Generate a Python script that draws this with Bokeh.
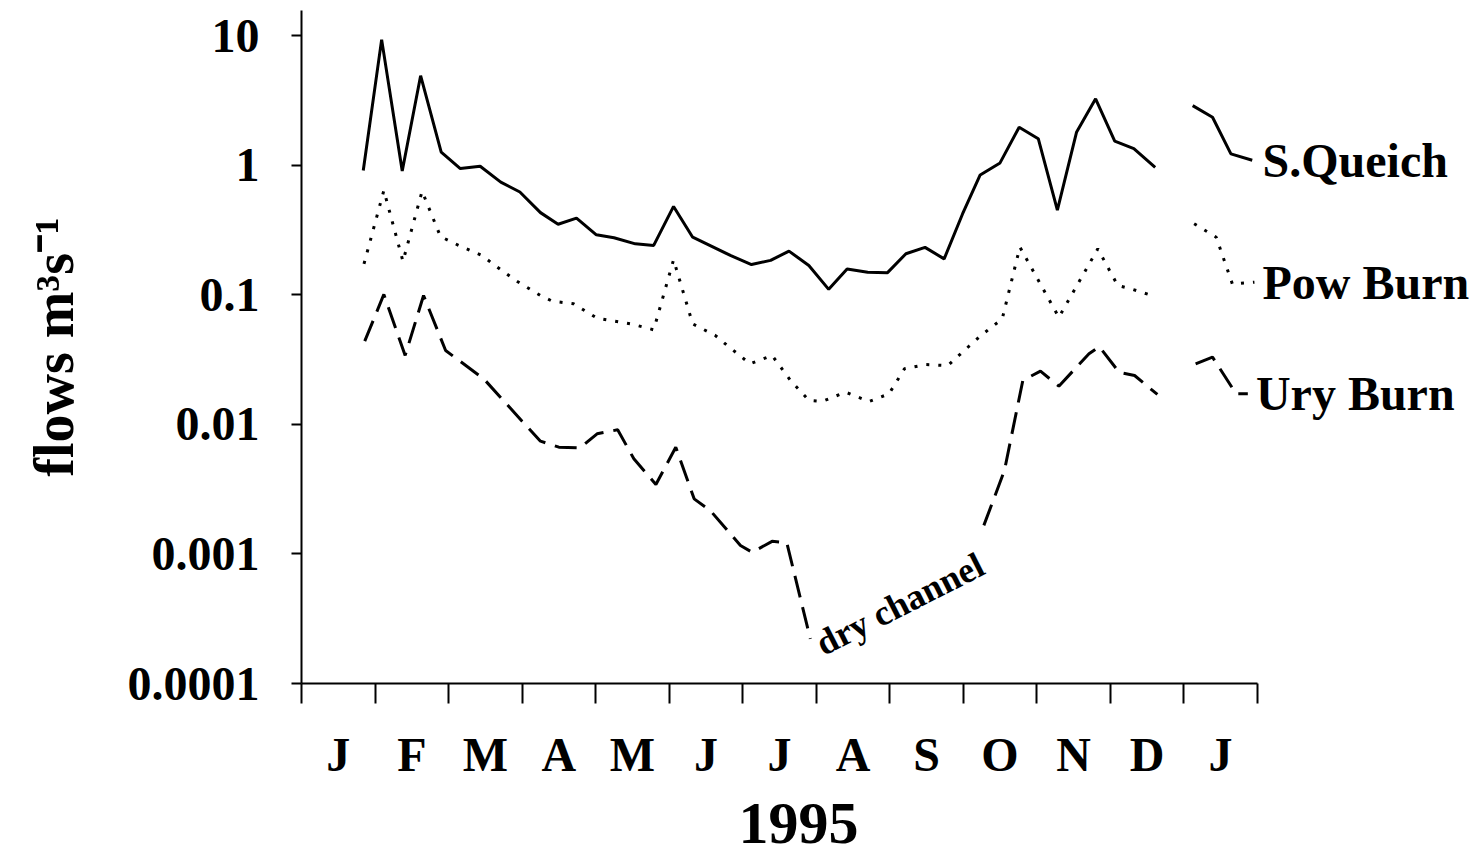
import math
from bokeh.plotting import figure
from bokeh.models import Range1d, FixedTicker, Label, Title
from bokeh.embed import file_html
from bokeh.resources import INLINE

NAN = float("nan")

# x positions in months from 1 Jan 1995 (0 = start of Jan, 13 = end of Jan 1996)
month_letters = ["J", "F", "M", "A", "M", "J", "J", "A", "S", "O", "N", "D", "J"]
y_ticks = [0.0001, 0.001, 0.01, 0.1, 1.0, 10.0]
y_tick_labels = ["0.0001", "0.001", "0.01", "0.1", "1", "10"]

queich_x = [0.84, 1.09, 1.37, 1.62, 1.90, 2.16, 2.43, 2.71, 2.97, 3.25, 3.49, 3.74, 4.01,
            4.25, 4.54, 4.79, 5.06, 5.32, 5.84, 6.12, 6.38, 6.63, 6.90, 7.17, 7.42, 7.70,
            7.97, 8.22, 8.48, 8.74, 8.99, 9.23, 9.50, 9.76, 10.02, 10.28, 10.54, 10.80,
            11.06, 11.32, 11.61]
queich_y = [0.91, 9.3, 0.90, 4.9, 1.26, 0.94, 0.98, 0.74, 0.62, 0.43, 0.35, 0.39, 0.29,
            0.275, 0.247, 0.24, 0.48, 0.278, 0.20, 0.171, 0.184, 0.217, 0.168, 0.110, 0.158,
            0.149, 0.148, 0.207, 0.232, 0.189, 0.42, 0.84, 1.04, 1.96, 1.60, 0.45, 1.79,
            3.25, 1.53, 1.34, 0.96]

pow_x = [0.85, 1.12, 1.38, 1.64, 1.89, 2.14, 2.46, 2.62, 2.93, 3.25, 3.41, 3.70, 4.02,
         4.48, 4.79, 5.06, 5.32, 5.63, 5.79, 6.10, 6.40, 6.65, 6.90, 7.08, 7.40, 7.72,
         7.99, 8.20, 8.49, 8.79, 8.94, 9.24, 9.53, 9.77, 10.30, 10.83, 11.10, 11.28, 11.60]
pow_y = [0.173, 0.637, 0.181, 0.629, 0.281, 0.240, 0.200, 0.170, 0.127, 0.0986, 0.0891,
         0.0851, 0.0659, 0.0596, 0.0536, 0.186, 0.0596, 0.0484, 0.0406, 0.0293, 0.034,
         0.0218, 0.0153, 0.0150, 0.0177, 0.0150, 0.0172, 0.0268, 0.0289, 0.0284, 0.034,
         0.0484, 0.0652, 0.233, 0.067, 0.226, 0.118, 0.111, 0.0973]

ury_x = [0.86, 1.12, 1.41, 1.66, 1.96, 2.48, 3.00, 3.25, 3.50, 3.79, 4.02, 4.30, 4.52,
         4.82, 5.09, 5.34, 5.56, 5.97, 6.13, 6.40, 6.60, 6.92, 8.0, 9.28, 9.56, 9.81,
         10.05, 10.30, 10.71, 10.85, 11.12, 11.33, 11.64]
ury_y = [0.0438, 0.1005, 0.034, 0.0986, 0.0371, 0.0224, 0.01057, 0.00741, 0.00666,
         0.00659, 0.00845, 0.00907, 0.00542, 0.00343, 0.00666, 0.00266, 0.00216, 0.00116,
         0.00103, 0.00125, 0.00122, 0.000221, NAN, 0.00166, 0.0044, 0.0218, 0.0257,
         0.0197, 0.035, 0.0398, 0.0252, 0.0238, 0.0170]

# January 1996 pieces, used as leaders to the series names
queich_lead_x = [12.12, 12.39, 12.64, 12.93]
queich_lead_y = [2.88, 2.34, 1.22, 1.09]
pow_lead_x = [12.14, 12.44, 12.66, 12.96]
pow_lead_y = [0.353, 0.278, 0.121, 0.125]
ury_lead_x = [12.16, 12.39, 12.71, 12.87]
ury_lead_y = [0.0293, 0.033, 0.0172, 0.0172]

series_names = ["S.Queich", "Pow Burn", "Ury Burn"]
name_x = [13.07, 13.07, 12.98]

dry_text = "dry channel"
dry_x = 7.03
dry_y = 0.000196

year_text = "1995"

FONT = "Liberation Serif"
X_END = 13          # last month boundary on the axis
X_VIEW = 15.98      # visible extent so the series names fit to the right
LW = 3

p = figure(width=1476, height=861, x_range=Range1d(0, X_VIEW), y_range=Range1d(1e-4, 15.6),
           y_axis_type="log", output_backend="svg", toolbar_location=None,
           min_border_left=301, min_border_right=0, min_border_top=10,
           min_border_bottom=178)
p.grid.visible = False
p.outline_line_color = None
p.background_fill_color = "white"
p.border_fill_color = "white"

# y axis
ya = p.yaxis[0]
ya.ticker = FixedTicker(ticks=y_ticks, minor_ticks=[])
ya.major_label_overrides = {t: lab for t, lab in zip(y_ticks, y_tick_labels)}
ya.major_tick_out = 10
ya.major_tick_in = 0
ya.minor_tick_out = 0
ya.minor_tick_in = 0
ya.axis_line_width = 2
ya.major_tick_line_width = 2
ya.major_label_standoff = 32
ya.major_label_text_font = FONT
ya.major_label_text_font_style = "bold"
ya.major_label_text_font_size = "48px"
ya.major_label_text_color = "black"
ya.axis_label = "flows m³s⁻¹"
ya.axis_label_text_font = FONT
ya.axis_label_text_font_style = "bold"
ya.axis_label_text_font_size = "56px"
ya.axis_label_text_color = "black"
ya.axis_label_standoff = 40

# x axis
xa = p.xaxis[0]
xa.bounds = (0, X_END)
mid = [i + 0.5 for i in range(len(month_letters))]
xa.ticker = FixedTicker(ticks=mid, minor_ticks=list(range(len(month_letters) + 1)))
xa.major_label_overrides = {m: lab for m, lab in zip(mid, month_letters)}
xa.major_tick_out = 0
xa.major_tick_in = 0
xa.minor_tick_out = 20
xa.minor_tick_in = 0
xa.minor_tick_line_width = 2
xa.axis_line_width = 2
xa.major_label_standoff = 24
xa.major_label_text_font = FONT
xa.major_label_text_font_style = "bold"
xa.major_label_text_font_size = "48px"
xa.major_label_text_color = "black"

p.add_layout(Title(text=year_text, align="left", offset=437, standoff=37,
                   text_font=FONT, text_font_style="bold", text_font_size="60px",
                   text_color="black"), "below")

# series
p.line(queich_x, queich_y, line_color="black", line_width=LW)
p.line(pow_x, pow_y, line_color="black", line_width=LW, line_dash="3 9")
p.line(ury_x, ury_y, line_color="black", line_width=LW, line_dash="22 10")

p.line(queich_lead_x, queich_lead_y, line_color="black", line_width=LW)
p.line(pow_lead_x, pow_lead_y, line_color="black", line_width=LW, line_dash="3 9")
p.line(ury_lead_x, ury_lead_y, line_color="black", line_width=LW, line_dash="22 10")

for name, nx, ny in zip(series_names, name_x,
                        [queich_lead_y[-1], pow_lead_y[-1], ury_lead_y[-1]]):
    p.add_layout(Label(x=nx, y=ny, text=name, text_font=FONT, text_font_style="bold",
                       text_font_size="48px", text_baseline="middle", text_align="left",
                       text_color="black"))

p.add_layout(Label(x=dry_x, y=dry_y, text=dry_text, text_font=FONT, text_font_style="bold",
                   text_font_size="36px", text_baseline="alphabetic", text_align="left",
                   angle=math.radians(27), text_color="black"))

open("out.html", "w").write(file_html(p, INLINE))
